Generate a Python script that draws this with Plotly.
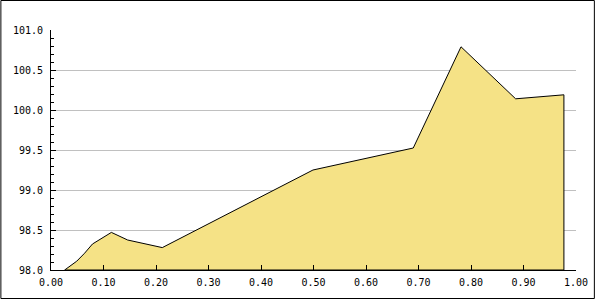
import plotly.graph_objects as go

# Data
x_vals = [0.026, 0.049, 0.064, 0.079, 0.115, 0.146, 0.212, 0.499, 0.690, 0.781, 0.885, 0.977]
y_vals = [98.00, 98.11, 98.21, 98.325, 98.47, 98.375, 98.28, 99.25, 99.525, 100.79, 100.14, 100.19]

x_range = [0.0, 1.0]
y_range = [98.0, 101.0]
x_tick_vals = [0.0, 0.1, 0.2, 0.3, 0.4, 0.5, 0.6, 0.7, 0.8, 0.9, 1.0]
y_tick_vals = [98.0, 98.5, 99.0, 99.5, 100.0, 100.5, 101.0]

W, H = 600, 300
ML, MR, MT, MB = 51, 20, 30, 30
PW, PH = W - ML - MR, H - MT - MB

# closed polygon down to the axis baseline
poly_x = x_vals + [x_vals[-1], x_vals[0]]
poly_y = y_vals + [y_range[0], y_range[0]]

fig = go.Figure()
fig.add_trace(go.Scatter(
    x=poly_x, y=poly_y, mode="lines", fill="toself",
    fillcolor="#F5E286", line=dict(color="black", width=1),
    hoverinfo="skip", showlegend=False,
))

font = dict(family="DejaVu Sans Mono", size=10, color="black")

fig.update_layout(
    width=W, height=H,
    margin=dict(l=ML, r=MR, t=MT, b=MB, pad=0),
    paper_bgcolor="white", plot_bgcolor="white",
    font=font, showlegend=False,
    xaxis=dict(
        range=x_range, tickvals=x_tick_vals, tickformat=".2f",
        showgrid=False, zeroline=False,
        showline=True, linecolor="black", linewidth=1,
        ticks="inside", ticklen=5, tickwidth=1, tickcolor="black",
        ticklabelstandoff=3,
        tickfont=font, fixedrange=True,
    ),
    yaxis=dict(
        range=y_range, tickvals=y_tick_vals, tickformat=".1f",
        showgrid=True, gridcolor="#C0C0C0", gridwidth=1,
        zeroline=False,
        showline=True, linecolor="black", linewidth=1,
        ticks="inside", ticklen=5, tickwidth=1, tickcolor="black",
        minor=dict(ticks="inside", ticklen=3, dtick=0.1, tickcolor="black",
                   showgrid=False),
        ticklabelstandoff=5,
        tickfont=font, fixedrange=True,
    ),
    shapes=[dict(
        type="rect", xref="paper", yref="paper",
        x0=(0.5 - ML) / PW, x1=(598.5 - ML) / PW,
        y0=(MT + PH - 298.5) / PH, y1=(MT + PH - 0.5) / PH,
        line=dict(color="black", width=1), fillcolor="rgba(0,0,0,0)",
        layer="above",
    )],
)

fig.write_html("out.html")
